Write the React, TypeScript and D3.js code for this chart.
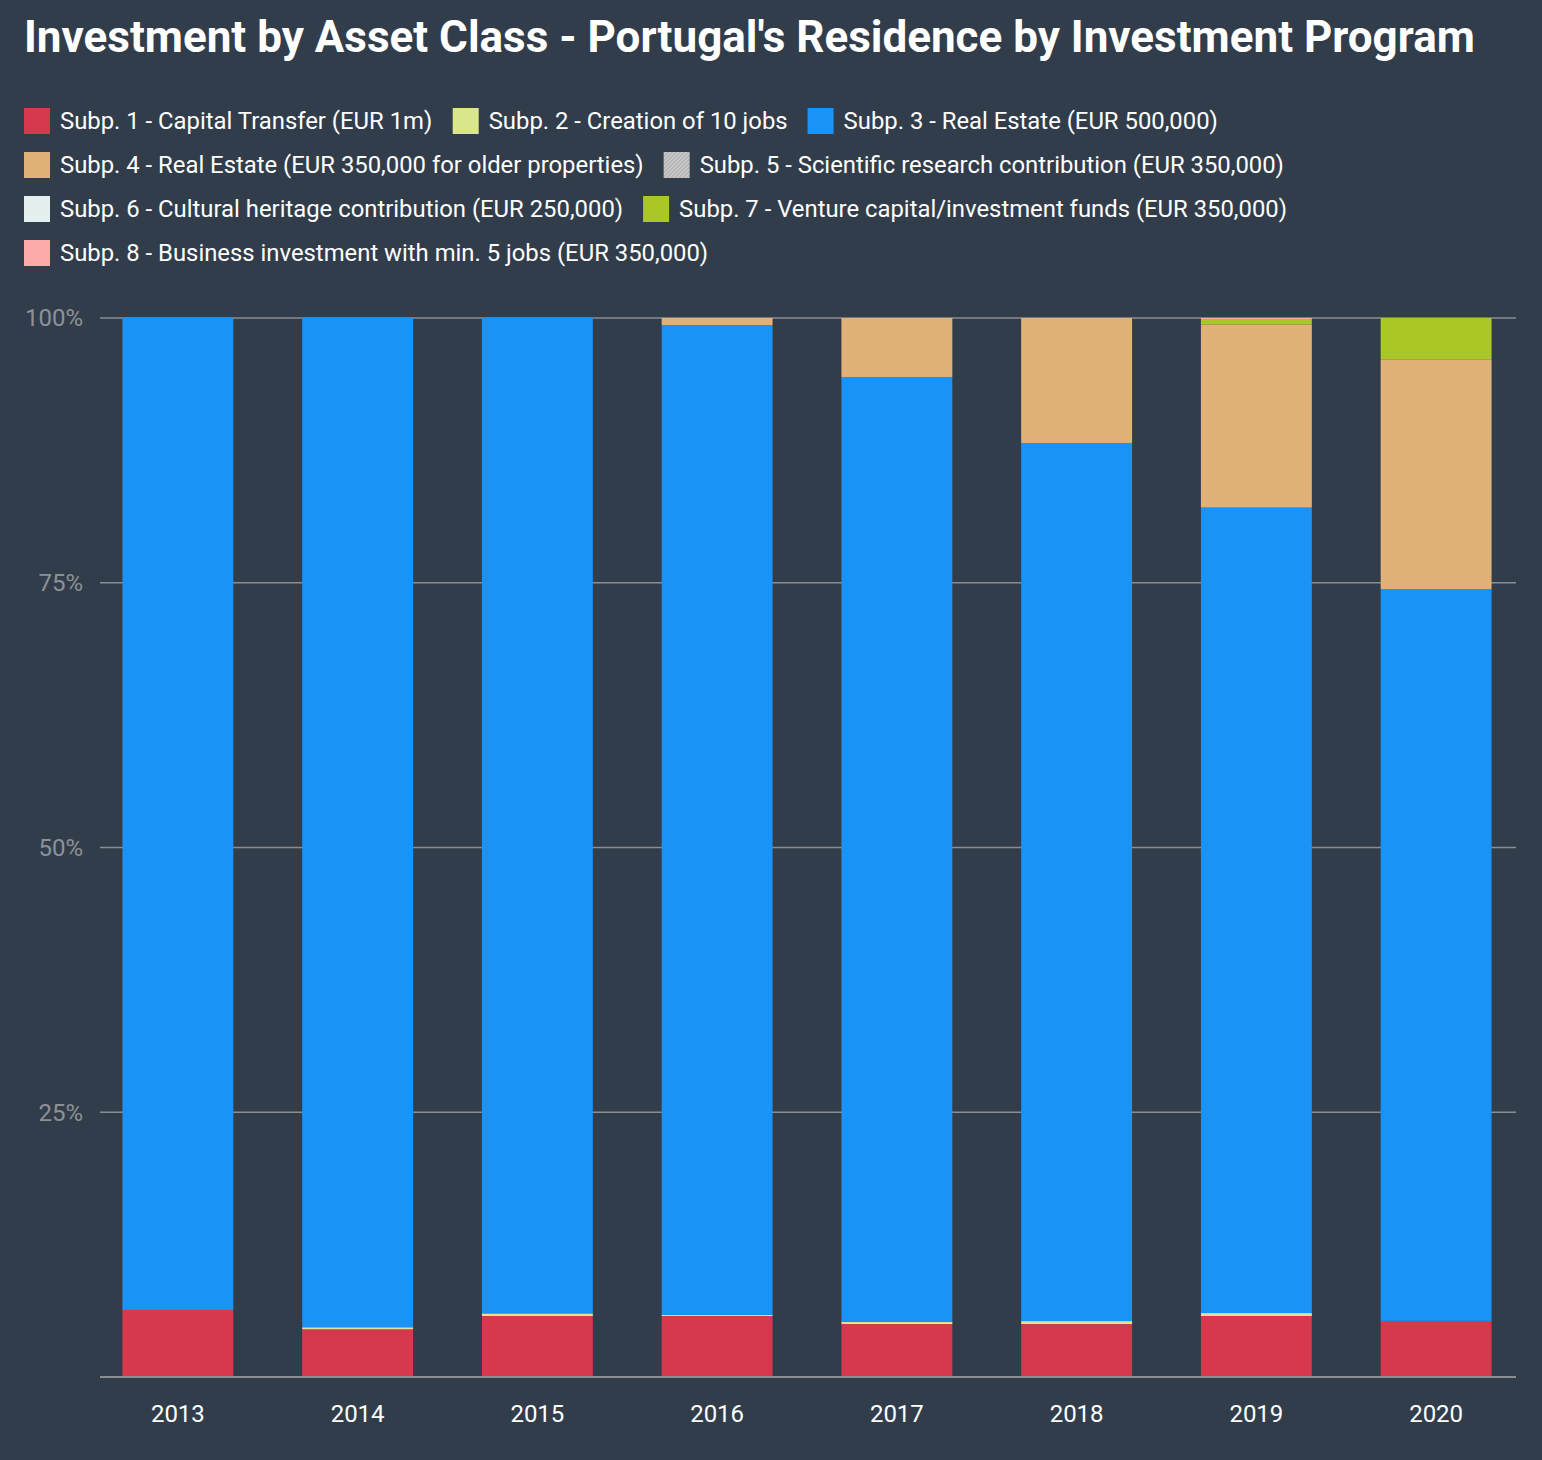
import React from "react";
import * as d3 from "d3";

const years = ["2013", "2014", "2015", "2016", "2017", "2018", "2019", "2020"];
const seriesNames = [
  "Subp. 1 - Capital Transfer (EUR 1m)",
  "Subp. 2 - Creation of 10 jobs",
  "Subp. 3 - Real Estate (EUR 500,000)",
  "Subp. 4 - Real Estate (EUR 350,000 for older properties)",
  "Subp. 5 - Scientific research contribution (EUR 350,000)",
  "Subp. 6 - Cultural heritage contribution (EUR 250,000)",
  "Subp. 7 - Venture capital/investment funds (EUR 350,000)",
  "Subp. 8 - Business investment with min. 5 jobs (EUR 350,000)",
];
const subp1 = [6.33, 4.5, 5.76, 5.76, 5.0, 5.0, 5.76, 5.3];
const subp2 = [0, 0.2, 0.25, 0.1, 0.2, 0.28, 0.28, 0];
const subp3 = [93.67, 95.3, 93.99, 93.48, 89.23, 82.92, 76.06, 69.1];
const subp4 = [0, 0, 0, 0.66, 5.57, 11.8, 17.3, 21.7];
const subp5 = [0, 0, 0, 0, 0, 0, 0, 0];
const subp6 = [0, 0, 0, 0, 0, 0, 0, 0];
const subp7 = [0, 0, 0, 0, 0, 0, 0.5, 3.9];
const subp8 = [0, 0, 0, 0, 0, 0, 0.1, 0];
const yTicks = [0.25, 0.5, 0.75, 1];
const colors = ["#d6384d", "#dbe58e", "#1a93f7", "#e0b277", "url(#hatch)", "#e4f0f0", "#a9c827", "#fdaaaa"];

const allSeries = [subp1, subp2, subp3, subp4, subp5, subp6, subp7, subp8];
const keys = seriesNames.map((_, i) => "s" + i);
const table = years.map((y, j) => {
  const row: any = { year: y };
  allSeries.forEach((s, i) => (row[keys[i]] = s[j]));
  return row;
});

const W = 1542, H = 1460;
const BG = "#323d4b";
const FONT = "Roboto, 'Noto Sans', sans-serif";

function measure(text: string, font: string) {
  const c = document.createElement("canvas").getContext("2d")!;
  c.font = font;
  return c.measureText(text).width;
}

export default function App() {
  const x = d3.scaleBand().domain(years).range([88, 1526]).paddingInner(0.383).paddingOuter(0.1915);
  const y = d3.scaleLinear().domain([0, 1]).range([1377, 318]);
  const stack = d3.stack().keys(keys).offset(d3.stackOffsetExpand);
  const layers = stack(table as any);

  const legendSize = 23.85;
  const legendFont = `${legendSize}px ${FONT}`;
  const items: { i: number; x: number; y: number }[] = [];
  let lx = 24, ly = 121;
  seriesNames.forEach((n, i) => {
    const w = 36 + measure(n, legendFont);
    if (lx + w > 1516 && lx > 24) {
      lx = 24;
      ly += 44;
    }
    items.push({ i, x: lx, y: ly });
    lx += w + 20;
  });

  return (
    <svg width={W} height={H} style={{ display: "block", position: "absolute", left: 0, top: 0 }}>
      <defs>
        <pattern id="hatch" width="4" height="4" patternUnits="userSpaceOnUse">
          <rect width="4" height="4" fill="#c8c8c8" />
          <path d="M0,4 L4,0" stroke="#a5a5a5" strokeWidth="1" />
        </pattern>
      </defs>
      <rect width={W} height={H} fill={BG} />
      <text x={24} y={52} fill="#fff" fontFamily={FONT} fontWeight={700} fontSize={44}>
        Investment by Asset Class - Portugal's Residence by Investment Program
      </text>
      {items.map((it) => (
        <g key={it.i} transform={`translate(${it.x},${it.y})`}>
          <rect x={0} y={-13} width={26} height={26} fill={colors[it.i]} />
          <text x={36} y={0} dy="0.35em" fill="#fff" fontFamily={FONT} fontSize={legendSize}>
            {seriesNames[it.i]}
          </text>
        </g>
      ))}
      {yTicks.map((t) => (
        <g key={t}>
          <line x1={100} x2={1516} y1={y(t)} y2={y(t)} stroke="#8a8d91" strokeWidth={1.5} />
          <text x={83} y={y(t)} dy="0.35em" textAnchor="end" fill="#8d9196" fontFamily={FONT} fontSize={24}>
            {d3.format(".0%")(t)}
          </text>
        </g>
      ))}
      {layers.map((layer, i) => (
        <g key={i} fill={colors[i]}>
          {layer.map((d: any, j: number) =>
            d[1] - d[0] > 0 ? (
              <rect key={j} x={x(years[j])} width={x.bandwidth()} y={y(d[1])} height={y(d[0]) - y(d[1])} />
            ) : null
          )}
        </g>
      ))}
      <line x1={100} x2={1516} y1={y(0)} y2={y(0)} stroke="#8a8d91" strokeWidth={2} />
      {years.map((yr) => (
        <text key={yr} x={x(yr)! + x.bandwidth() / 2} y={1414} dy="0.35em" textAnchor="middle" fill="#fff" fontFamily={FONT} fontSize={24}>
          {yr}
        </text>
      ))}
    </svg>
  );
}
